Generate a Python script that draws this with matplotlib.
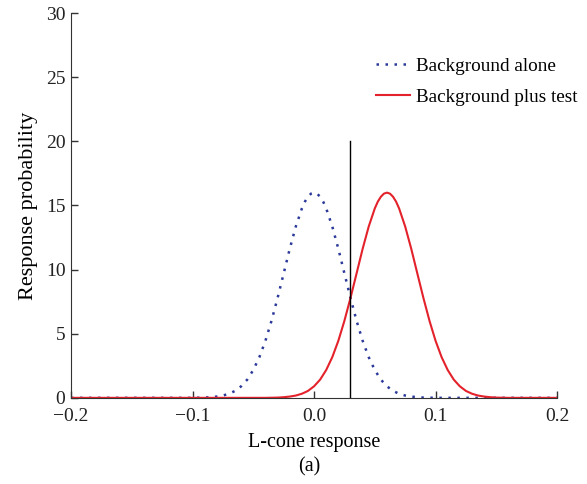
import matplotlib
matplotlib.use("Agg")
import matplotlib.pyplot as plt

plt.rcParams["font.family"] = ["Liberation Serif", "DejaVu Serif"]
plt.rcParams["font.size"] = 14

# offsets from each curve's centre and the response probability read at them
offsets = [-0.3, -0.1, -0.09, -0.085, -0.08, -0.075, -0.07, -0.065, -0.06, -0.055,
           -0.05, -0.045, -0.04, -0.035, -0.03, -0.025, -0.02, -0.015, -0.01, -0.0075,
           -0.005, -0.0025, 0.0, 0.0025, 0.005, 0.0075, 0.01, 0.015, 0.02, 0.025,
           0.03, 0.035, 0.04, 0.045, 0.05, 0.055, 0.06, 0.065, 0.07, 0.075,
           0.08, 0.085, 0.09, 0.1, 0.3]
prob = [0.0, 0.0, 0.02, 0.05, 0.10, 0.18, 0.32, 0.54, 0.90, 1.42,
        2.17, 3.17, 4.45, 6.01, 7.79, 9.70, 11.62, 13.36, 14.77, 15.30,
        15.68, 15.92, 16.0, 15.92, 15.68, 15.30, 14.77, 13.36, 11.62, 9.70,
        7.79, 6.01, 4.45, 3.17, 2.17, 1.42, 0.90, 0.54, 0.32, 0.18,
        0.10, 0.05, 0.02, 0.0, 0.0]

bg_mean = 0.0
test_mean = 0.06
criterion = 0.03
criterion_top = 20

bg_x = [bg_mean + d for d in offsets]
test_x = [test_mean + d for d in offsets]

fig = plt.figure(figsize=(5.87, 4.84), dpi=100)
ax = fig.add_axes([0.121, 0.178, 0.828, 0.795])

ax.plot(bg_x, prob, linestyle=(0, (1, 2.6)), color="#2b3a9a", lw=1.8,
        label="Background alone")
ax.plot(test_x, prob, color="#e3222b", lw=1.5, label="Background plus test")
ax.plot([criterion, criterion], [0, criterion_top], color="black", lw=1.0)

ax.set_xlim(-0.2, 0.2)
ax.set_ylim(0, 30)
ax.set_xticks([-0.2, -0.1, 0.0, 0.1, 0.2])
ax.set_xticklabels(["\u22120.2", "\u22120.1", "0.0", "0.1", "0.2"])
ax.set_yticks([0, 5, 10, 15, 20, 25, 30])
ax.tick_params(direction="in", length=5, width=1, colors="#333333",
               labelcolor="#222222", pad=4)
ax.tick_params(axis="x", pad=7)
for s in ["top", "right"]:
    ax.spines[s].set_visible(False)
for s in ["left", "bottom"]:
    ax.spines[s].set_color("#333333")

ax.set_xlabel("L-cone response", fontsize=14.5, labelpad=6)
ax.set_ylabel("Response probability", fontsize=16, labelpad=6)
fig.text(0.527, 0.035, "(a)", ha="center", va="center", fontsize=14.5)

ax.legend(loc="upper right", bbox_to_anchor=(1.077, 0.93), frameon=False,
          fontsize=13.8, handlelength=1.75, handletextpad=0.3, labelspacing=0.72)

fig.savefig("out.png", dpi=100)
